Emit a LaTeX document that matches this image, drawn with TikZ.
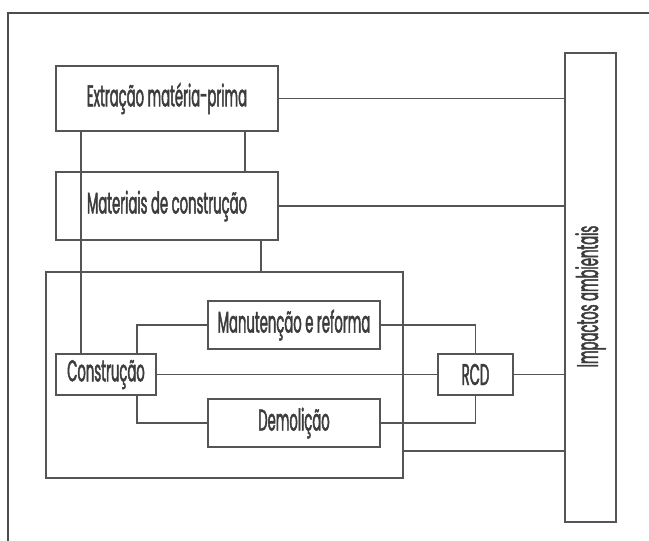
\documentclass[tikz,border=0pt]{standalone}
\usepackage{fontspec}
\newfontfamily\boxfont{Poppins}[FakeStretch=0.44,FakeBold=1.5]
\definecolor{linegray}{HTML}{555555}
\definecolor{textgray}{HTML}{3C3C3C}

\begin{document}
\begin{tikzpicture}[x=1pt,y=-1pt,
  box/.style={draw=linegray, line width=1.6pt, inner sep=0pt,
    font=\boxfont\fontsize{30}{32}\selectfont, text=textgray},
  link/.style={draw=linegray, line width=1.6pt}]
\useasboundingbox (0,0) rectangle (649,541);
% frame
\draw [line width=2.2pt, draw=black!70] (8,541) -- (8,13) -- (649,13);
% stages
\node [box, minimum width=222pt, minimum height=65pt] (extr) at (167,98.5) {Extração matéria-prima};
\node [box, minimum width=222pt, minimum height=68pt] (mat)  at (167,206)  {Materiais de construção};
\node [box, minimum width=357pt, minimum height=206pt] (uso) at (224.5,375) {};
\node [box, minimum width=172pt, minimum height=48pt] (manut) at (294,325) {Manutenção e reforma};
\node [box, minimum width=100pt, minimum height=41pt] (constr) at (106,374.5) {Construção};
\node [box, minimum width=172pt, minimum height=48pt] (demol) at (294,423) {Demolição};
\node [box, minimum width=75pt, minimum height=41pt] (rcd) at (475.5,374.5) {RCD};
\node [box, minimum width=51pt, minimum height=469pt] (impact) at (590.5,287.5) {\rotatebox{90}{Impactos ambientais\hspace*{18pt}}};
% links
\draw [link] (extr.east) -- (extr.east -| impact.west);
\draw [link] (mat.east) -- (mat.east -| impact.west);
\draw [link] ([xshift=78pt]extr.south) -- ([xshift=78pt]extr.south |- mat.north);
\draw [link] ([xshift=-25pt]constr.north) -- ([xshift=-25pt]constr.north |- extr.south);
\draw [link] ([xshift=94pt]mat.south) -- ([xshift=94pt]mat.south |- uso.north);
\draw [link] ([xshift=31pt]constr.north) |- (manut.west);
\draw [link] ([xshift=31pt]constr.south) |- (demol.west);
\draw [link] (constr.east) -- (rcd.west);
\draw [link] (manut.east) -| (rcd.north);
\draw [link] (demol.east) -| (rcd.south);
\draw [link] (rcd.east) -- (rcd.east -| impact.west);
\draw [link] (uso.east |- 0,451) -- (impact.west |- 0,451);
\end{tikzpicture}
\end{document}
